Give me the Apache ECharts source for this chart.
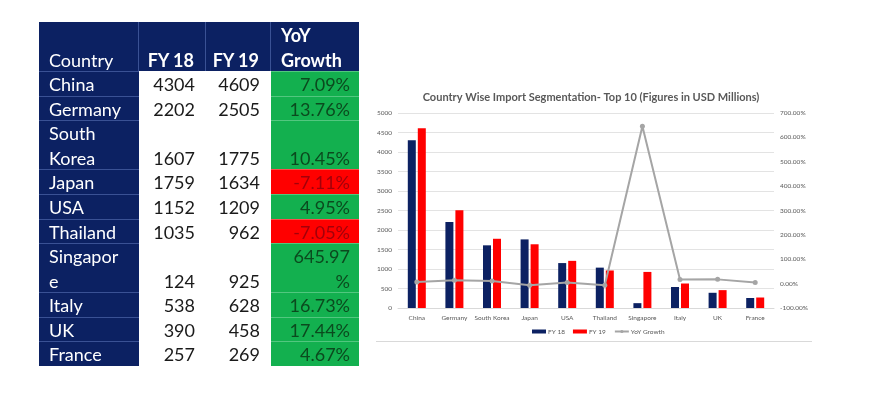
<!DOCTYPE html>
<html>
<head>
<meta charset="utf-8">
<script src="https://cdn.jsdelivr.net/npm/echarts/dist/echarts.min.js"></script>
<style>
html,body{margin:0;padding:0;background:#fff;width:876px;height:403px;overflow:hidden;}
#chart{position:absolute;left:0;top:0;width:876px;height:403px;}
#tbl{position:absolute;left:39px;top:22px;width:320px;height:344px;font-family:Lato,"Open Sans",sans-serif;font-size:18px;}
.c{position:absolute;box-sizing:border-box;white-space:pre;line-height:24.57px;display:flex;flex-direction:column;justify-content:flex-end;padding-bottom:0px;}
</style>
</head>
<body>
<div id="chart"></div>
<div id="tbl"></div>
<script>
// ---- data ----
const countries = ['China','Germany','South Korea','Japan','USA','Thailand','Singapore','Italy','UK','France'];
const fy18 = [4304,2202,1607,1759,1152,1035,124,538,390,257];
const fy19 = [4609,2505,1775,1634,1209,962,925,628,458,269];
const yoyGrowth = [7.09,13.76,10.45,-7.11,4.95,-7.05,645.97,16.73,17.44,4.67];
const tableCountryLabels = ['China','Germany','South\nKorea','Japan','USA','Thailand','Singapor\ne','Italy','UK','France'];
const tableHeaders = ['Country','FY 18','FY 19','YoY\nGrowth'];
const seriesNames = ['FY 18','FY 19','YoY Growth'];
const chartTitle = 'Country Wise Import Segmentation- Top 10 (Figures in USD Millions)';
const leftAxisRange = [0, 5000, 500];
const rightAxisRange = [-100, 700, 100];

// ---- table ----
const NAVY = '#0c2162', GREEN = '#13b04f', RED = '#ff0000';
const tbl = document.getElementById('tbl');
const lineH = 344 / 14;
const cols = [{x:0,w:100},{x:100,w:67},{x:167,w:65},{x:232,w:88}];
function cell(colIdx, top, h, text, opts) {
  const d = document.createElement('div');
  d.className = 'c';
  const c = cols[colIdx];
  d.style.left = c.x + 'px';
  d.style.width = c.w + 'px';
  d.style.top = top + 'px';
  d.style.height = h + 'px';
  d.style.background = opts.bg;
  d.style.color = opts.color;
  if (opts.bold) d.style.fontWeight = 'bold';
  if (opts.align === 'left') { d.style.paddingLeft = (opts.pad || 10) + 'px'; d.style.textAlign = 'left'; }
  else { d.style.paddingRight = (opts.pad || 11) + 'px'; d.style.textAlign = 'right'; }
  if (opts.bt) d.style.borderTop = '1px solid ' + opts.bt;
  if (opts.br) d.style.borderRight = '1px solid ' + opts.br;
  const s = document.createElement('div');
  s.style.transform = 'translateY(1px)';
  s.textContent = text;
  d.appendChild(s);
  tbl.appendChild(d);
}
// header
const hh = 2 * lineH;
cell(0, 0, hh, tableHeaders[0], {bg:NAVY,color:'#fff',align:'left',br:'#3a5194'});
cell(1, 0, hh, tableHeaders[1], {bg:NAVY,color:'#fff',bold:true,br:'#3a5194'});
cell(2, 0, hh, tableHeaders[2], {bg:NAVY,color:'#fff',bold:true,br:'#3a5194'});
cell(3, 0, hh, tableHeaders[3], {bg:NAVY,color:'#fff',bold:true,align:'left',pad:10});
let y = hh;
for (let i = 0; i < countries.length; i++) {
  const cLabel = tableCountryLabels[i];
  let yoyTxt = yoyGrowth[i].toFixed(2) + '%';
  if (yoyTxt.length > 6) yoyTxt = yoyTxt.slice(0, -1) + '\n%';
  const lines = Math.max(cLabel.split('\n').length, yoyTxt.split('\n').length);
  const h = lines * lineH;
  const pos = yoyGrowth[i] >= 0;
  cell(0, y, h, cLabel, {bg:NAVY,color:'#fff',align:'left',bt:'#3a5194'});
  cell(1, y, h, String(fy18[i]), {bg:'#fff',color:'#1a1a1a'});
  cell(2, y, h, String(fy19[i]), {bg:'#fff',color:'#1a1a1a'});
  cell(3, y, h, yoyTxt, {bg: pos ? GREEN : RED, color: pos ? '#0b4a1e' : '#a3000a', pad:9, bt: pos ? '#52c77f' : '#ff4a4a'});
  y += h;
}

// ---- chart ----
const chart = echarts.init(document.getElementById('chart'), null, {renderer:'canvas'});
const FONT = 'Lato, "Open Sans", sans-serif';
const labelStyle = {color:'#595959', fontSize:6.5, fontFamily:FONT};
chart.setOption({
  animation: false,
  backgroundColor: 'transparent',
  textStyle: {fontFamily: FONT},
  graphic: [
    {type:'text', x:591, y:97, style:{text:chartTitle, fill:'#595959', font:'bold 11px ' + FONT, align:'center', verticalAlign:'middle'}},
    {type:'line', shape:{x1:376, y1:341.5, x2:812, y2:341.5}, style:{stroke:'#d9d9d9', lineWidth:1}}
  ],
  grid: {left:398, right:102, top:113, bottom:95, containLabel:false},
  legend: {
    left: 532, top: 328, itemWidth: 14, itemHeight: 4, itemGap: 8, padding: 0,
    textStyle: {color:'#595959', fontSize:6.5, fontFamily:FONT, padding:[0,0,0,-3]},
    data: [
      {name: seriesNames[0], icon:'rect'},
      {name: seriesNames[1], icon:'rect'},
      {name: seriesNames[2]}
    ]
  },
  xAxis: {
    type:'category', data: countries,
    axisLine:{show:true, lineStyle:{color:'#d9d9d9', width:1}},
    axisTick:{show:false},
    axisLabel:{...labelStyle, margin:6, interval:0},
    splitLine:{show:false}
  },
  yAxis: [
    {type:'value', min:leftAxisRange[0], max:leftAxisRange[1], interval:leftAxisRange[2],
     axisLine:{show:false}, axisTick:{show:false},
     axisLabel:{...labelStyle, margin:6, formatter: v => String(v)},
     splitLine:{show:true, lineStyle:{color:'#e3e3e3', width:1}}},
    {type:'value', min:rightAxisRange[0], max:rightAxisRange[1], interval:rightAxisRange[2],
     axisLine:{show:false}, axisTick:{show:false},
     axisLabel:{...labelStyle, margin:6, formatter: v => v.toFixed(2) + '%'},
     splitLine:{show:false}}
  ],
  series: [
    {name: seriesNames[0], type:'bar', data: fy18, barWidth: 8, barGap:'25%', itemStyle:{color:'#0c2162'}},
    {name: seriesNames[1], type:'bar', data: fy19, barWidth: 8, barGap:'25%', itemStyle:{color:'#ff0000'}},
    {name: seriesNames[2], type:'line', yAxisIndex:1, data: yoyGrowth, symbol:'circle', symbolSize:5,
     lineStyle:{color:'#a5a5a5', width:2}, itemStyle:{color:'#a5a5a5'}, z:5}
  ]
});
</script>
</body>
</html>
